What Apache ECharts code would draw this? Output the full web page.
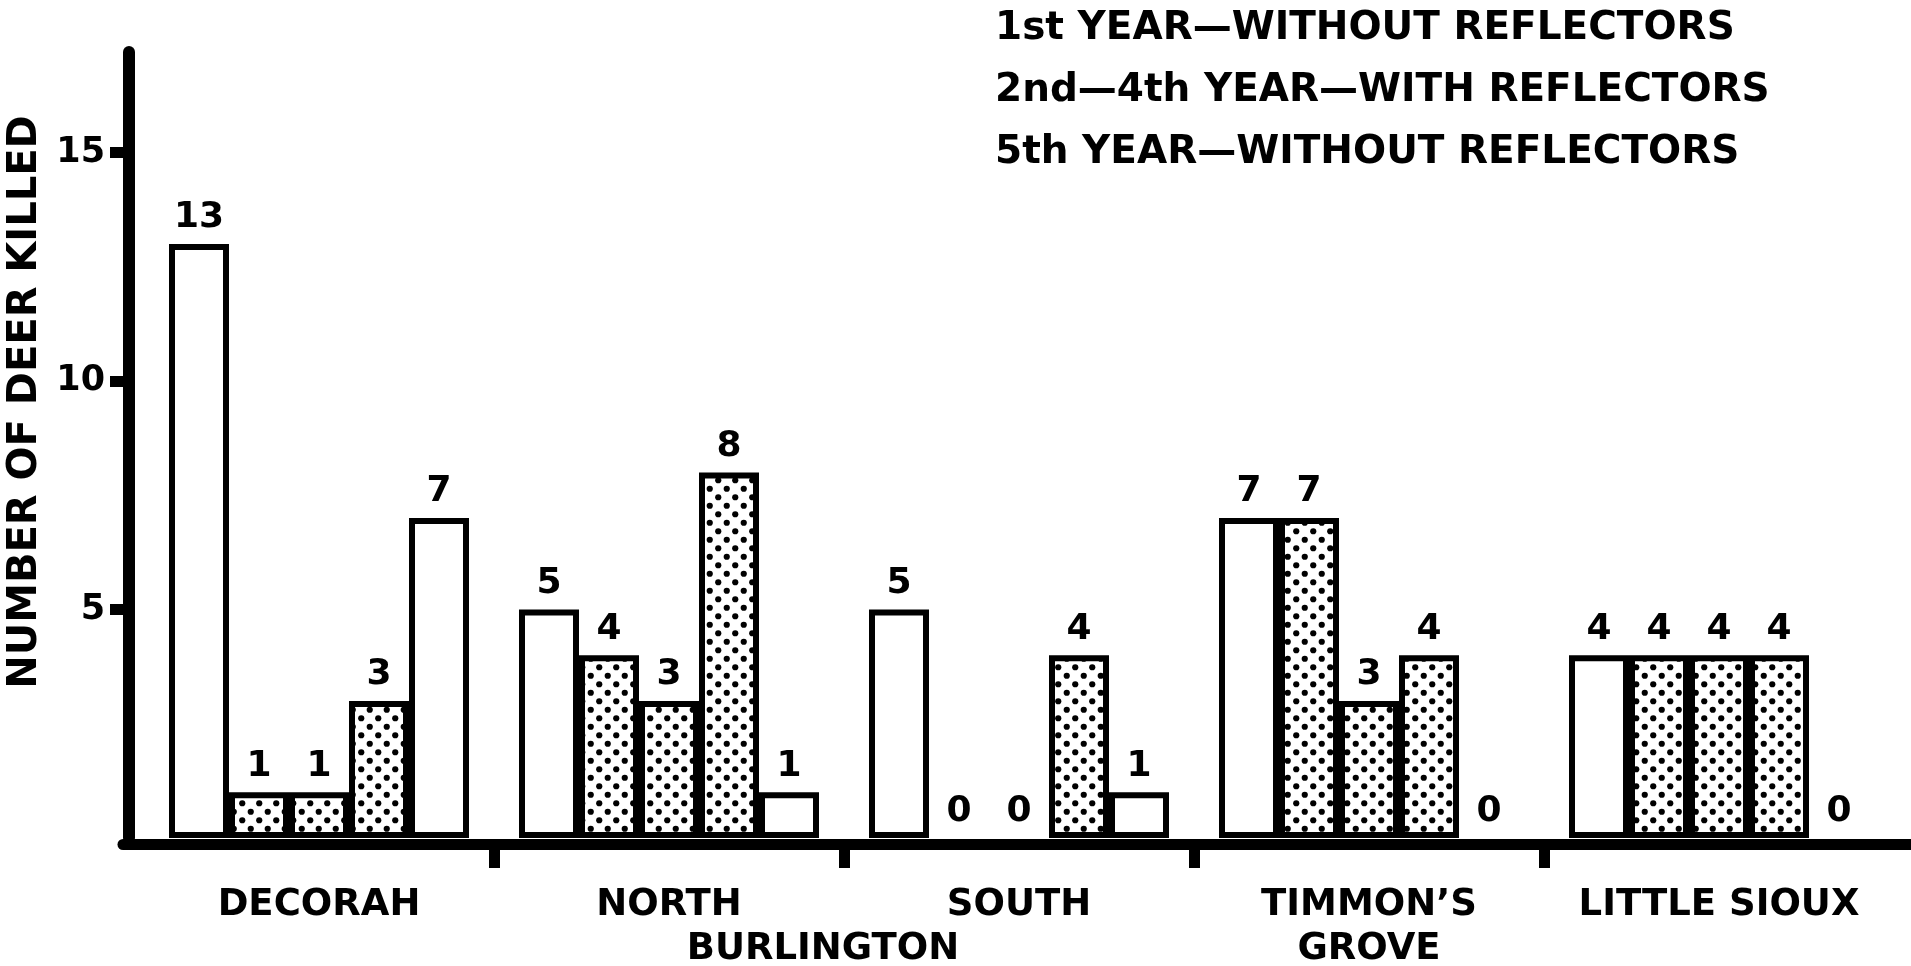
<!DOCTYPE html>
<html><head><meta charset="utf-8">
<script src="https://cdn.jsdelivr.net/npm/echarts@6/dist/echarts.min.js"></script>
<style>html,body{margin:0;padding:0;background:#fff}#c{width:1911px;height:966px}</style>
</head><body><div id="c"></div>
<script>
const categories = ['DECORAH', 'NORTH BURLINGTON', 'SOUTH BURLINGTON', 'TIMMON’S GROVE', 'LITTLE SIOUX'];
const categoryLabels = ['DECORAH', 'NORTH\n{b|BURLINGTON}', 'SOUTH', 'TIMMON’S\nGROVE', 'LITTLE SIOUX'];
const seriesNames = ['1st YEAR', '2nd YEAR', '3rd YEAR', '4th YEAR', '5th YEAR'];
const year1 = [13, 5, 5, 7, 4];
const year2 = [1, 4, 0, 7, 4];
const year3 = [1, 3, 0, 3, 4];
const year4 = [3, 8, 4, 4, 4];
const year5 = [7, 1, 1, 0, 0];
const withReflectors = [false, true, true, true, false];
const yTickValues = [5, 10, 15];
const separatorValues = [1, 2, 3, 4];
const legendLines = ['1st YEAR—WITHOUT REFLECTORS', '2nd—4th YEAR—WITH REFLECTORS', '5th YEAR—WITHOUT REFLECTORS'];
const yAxisTitle = 'NUMBER OF DEER KILLED';

const FONT = 'DejaVu Sans';
const txt = { color: '#000', fontFamily: FONT, fontWeight: 'bold' };

function dotPattern() {
  const s = 17, c = document.createElement('canvas');
  c.width = s; c.height = s;
  const g = c.getContext('2d');
  g.fillStyle = '#fff'; g.fillRect(0, 0, s, s);
  g.fillStyle = '#000';
  [[4.25, 4.25], [12.75, 12.75]].forEach(function (p) {
    g.beginPath(); g.arc(p[0], p[1], 3.1, 0, Math.PI * 2); g.fill();
  });
  return c;
}
const pattern = dotPattern();
const allSeries = [year1, year2, year3, year4, year5];

const chart = echarts.init(document.getElementById('c'), null, { renderer: 'canvas' });
chart.setOption({
  animation: false,
  backgroundColor: '#fff',
  title: {
    text: legendLines.join('\n'),
    left: 995, top: -2, padding: 0,
    textStyle: Object.assign({}, txt, { fontSize: 39, lineHeight: 62 })
  },
  grid: [
    { left: 144, right: 17, top: 52, bottom: 128, containLabel: false, outerBoundsMode: 'none' },
    { left: 123, right: 0, top: 52, bottom: 128, containLabel: false, outerBoundsMode: 'none' }
  ],
  xAxis: [
    {
      gridIndex: 0, type: 'category', data: categories, position: 'bottom',
      axisLine: { show: false, onZero: false }, axisTick: { show: false },
      axisLabel: Object.assign({}, txt, {
        interval: 0, margin: 45, fontSize: 37, lineHeight: 44,
        formatter: function (v, i) { return categoryLabels[i]; },
        rich: { b: Object.assign({}, txt, { fontSize: 37, lineHeight: 44, padding: [0, 0, 0, 308] }) }
      }),
      splitLine: { show: false }
    },
    {
      gridIndex: 0, type: 'value', min: 0, max: 5, position: 'bottom', offset: 6,
      axisLine: { show: false, onZero: false },
      axisTick: { show: true, customValues: separatorValues, length: 24, lineStyle: { color: '#000', width: 11 } },
      axisLabel: { show: false }, splitLine: { show: false }
    },
    {
      gridIndex: 1, type: 'value', min: 0, max: 1, position: 'bottom', offset: 6,
      axisLine: { show: true, onZero: false, lineStyle: { color: '#000', width: 11 } },
      axisTick: { show: false }, axisLabel: { show: false }, splitLine: { show: false }
    }
  ],
  yAxis: [
    {
      gridIndex: 0, type: 'value', min: 0, max: 17.2, position: 'left', offset: 15,
      axisLine: { show: true, onZero: false, lineStyle: { color: '#000', width: 12 } },
      axisTick: { show: true, customValues: yTickValues, length: 19, lineStyle: { color: '#000', width: 11 } },
      axisLabel: Object.assign({}, txt, { customValues: yTickValues, margin: 24, fontSize: 35 }),
      splitLine: { show: false },
      name: yAxisTitle, nameLocation: 'middle', nameGap: 76,
      nameTextStyle: Object.assign({}, txt, { fontSize: 40, padding: [0, 0, 0, 86] })
    },
    { gridIndex: 1, type: 'value', min: 0, max: 17.2, show: false }
  ],
  series: allSeries.map(function (vals, i) {
    return {
      type: 'bar', name: seriesNames[i], xAxisIndex: 0, yAxisIndex: 0,
      barWidth: 60, barGap: '0%',
      data: vals.map(function (v) { return v === 0 ? { value: v, itemStyle: { borderWidth: 0 } } : v; }),
      itemStyle: {
        color: withReflectors[i] ? { image: pattern, repeat: 'repeat' } : '#fff',
        borderColor: '#000', borderWidth: 6
      },
      label: Object.assign({}, txt, { show: true, position: 'top', distance: 8, fontSize: 36 })
    };
  })
});
</script></body></html>
